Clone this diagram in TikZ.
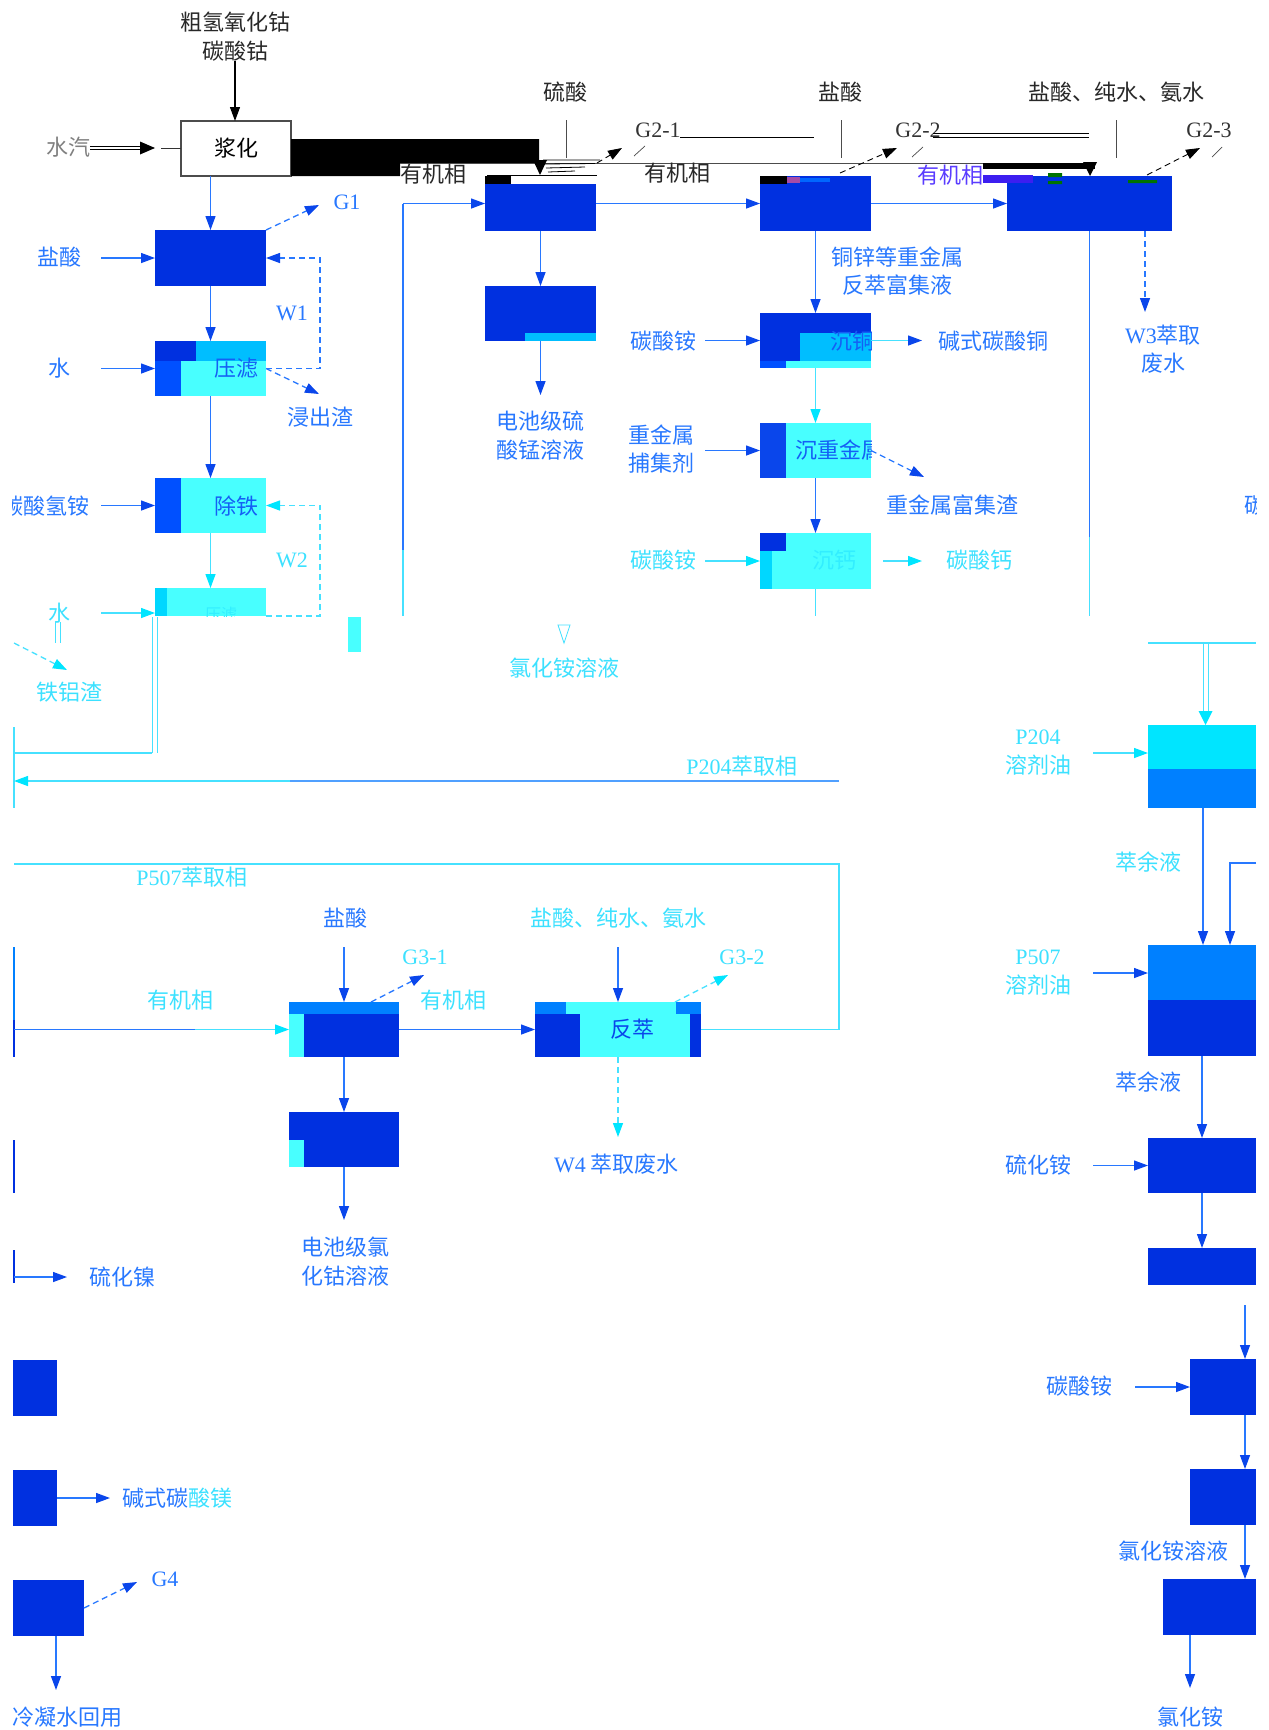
\documentclass[tikz,border=0pt]{standalone}
\usepackage{fontspec}
\setmainfont{Liberation Serif}
\newfontfamily\cjk{Noto Sans CJK SC}
\newfontfamily\lat{Liberation Serif}
\usetikzlibrary{arrows.meta}
\definecolor{dblue}{RGB}{0,48,224}
\definecolor{mblue}{RGB}{0,80,255}
\definecolor{sblue}{RGB}{0,128,255}
\definecolor{cyanA}{RGB}{0,190,255}
\definecolor{cyanB}{RGB}{72,255,255}
\definecolor{cyanC}{RGB}{0,229,255}
\definecolor{cyanD}{RGB}{0,215,255}
\definecolor{lblue}{RGB}{40,120,255}
\definecolor{hblue}{RGB}{10,70,235}
\definecolor{lcyan}{RGB}{70,225,255}
\definecolor{tblue}{RGB}{40,120,255}
\definecolor{tcyan}{RGB}{60,225,255}
\definecolor{tgray}{RGB}{40,40,40}
\definecolor{inblue}{RGB}{20,95,245}
\definecolor{faint}{RGB}{50,238,255}
\definecolor{glv}{RGB}{60,30,240}
\definecolor{glv2}{RGB}{90,60,255}
\definecolor{midl}{RGB}{80,160,255}
\newcommand\mkbox[6]{\node[box,fill=#6,minimum width={#4-#2},minimum height={#5-#3}] (#1) at ({(#2+#4)/2},{(#3+#5)/2}) {};}
\tikzset{
 box/.style={inner sep=0pt, outer sep=0pt, draw=none},
 lab/.style={font=\cjk\fontsize{22}{28.5}\selectfont, inner sep=0pt, align=center, text=tblue},
 lc/.style={lab, text=tcyan},
 lk/.style={lab, text=tgray},
 lt/.style={font=\lat\fontsize{22}{26}\selectfont, inner sep=0pt},
 ln/.style={line width=1.3pt},
 arrB/.style={ln, draw=lblue, -{Triangle[length=14pt,width=10pt,color=hblue]}},
 arrC/.style={ln, draw=lcyan, -{Triangle[length=14pt,width=10pt,color=cyanC]}},
 arrCB/.style={ln, draw=lcyan, -{Triangle[length=14pt,width=10pt,color=hblue]}},
 arrK/.style={line width=1.2pt, draw=black, -{Triangle[length=14pt,width=10pt,color=black]}},
 dsB/.style={arrB, dash pattern=on 6pt off 4pt},
 dsC/.style={arrC, dash pattern=on 6pt off 4pt},
 dsK/.style={arrK, line width=0.9pt, dash pattern=on 6pt off 4pt},
}
\begin{document}
\begin{tikzpicture}[x=1pt,y=-1pt]
\useasboundingbox (0,0) rectangle (1269,1730);
\fill[white] (0,0) rectangle (1269,1730);

% ---------- top: raw material and slurrying ----------
\node[lk] (raw) at (235,36.5) {粗氢氧化钴\\碳酸钴};
\node[draw=black!70, line width=1.2pt, fill=white, inner sep=0pt, outer sep=0pt,
      minimum width=110pt, minimum height=55pt, font=\cjk\fontsize{22}{26}\selectfont, text=black] (J) at (236,148.5) {浆化};
\draw[arrK] (raw.south) -- (raw.south |- J.north);
\node[lk, text=gray] (st) at (68,147) {水汽};
\draw[line width=0.9pt] (st.east |- 0,146.5) -- (142,146.5) (st.east |- 0,149.5) -- (142,149.5);
\fill (140,141.5) -- (155,148) -- (140,154.5) -- cycle;
\coordinate (sta) at (161,148.5);
\draw[line width=1.2pt, black!80] (sta) -- (J.west);

% black glitch bar and top lines
\fill[black] (291,139) -- (539,139) -- (539,163) -- (400,163) -- (400,176) -- (291,176) -- cycle;
\draw[gray!60!black, line width=1pt] (400,163) -- (983,163);
\fill[black] (983,163) rectangle (1095,169);
\fill[black] (533,160) -- (547,160) -- (540,175) -- cycle;
\fill[black] (1083,162) -- (1097,162) -- (1090,176) -- cycle;
\draw[black, line width=0.8pt] (543,160) -- (600,160) (544,164) -- (595,163.5) (546,168) -- (585,167) (548,172) -- (575,171);

\node[lk] (ls) at (565,92) {硫酸};
\node[lk] (lh) at (840,92) {盐酸};
\node[lk] (lhc) at (1116,92) {盐酸、纯水、氨水};
\coordinate (ls1) at (566,120); \coordinate (ls2) at (566,158);
\coordinate (lh1) at (841,120); \coordinate (lh2) at (841,158);
\coordinate (lc1) at (1116,120); \coordinate (lc2) at (1116,158);
\draw[gray!60!black, line width=1pt] (ls1) -- (ls2) (lh1) -- (lh2) (lc1) -- (lc2);

\node[lt, text=black!80] (g21) at (658,130) {G2-1};
\node[lt, text=black!80] (g22) at (918,130) {G2-2};
\node[lt, text=black!80] (g23) at (1209,130) {G2-3};
\draw[black, line width=1pt] (680,137) -- (814,137);
\draw[black, line width=0.8pt] (933,133.5) -- (1089,133.5) (933,137) -- (1089,137);
\coordinate (g21s) at (597,163); \coordinate (g21e) at (622,148);
\coordinate (g22s) at (840,173); \coordinate (g22e) at (897,148);
\coordinate (g23s) at (1147,175); \coordinate (g23e) at (1200,148);
\draw[dsK] (g21s) -- (g21e);
\draw[dsK] (g22s) -- (g22e);
\draw[dsK] (g23s) -- (g23e);
\draw[black!70, line width=0.7pt] (634,156) -- (645,146) (912,157) -- (923,147) (1212,157) -- (1222,147);

% ---------- first-row boxes ----------
\mkbox{b5}{485}{176}{596}{231}{dblue}
\fill[white] (511,176) rectangle (596,184);
\fill[black] (485,176) rectangle (511,184);
\draw[black, line width=0.8pt] (487,175.5) -- (597,175.5);
\mkbox{b6}{760}{176}{871}{231}{dblue}
\fill[black] (760,176) rectangle (787,184);
\fill[violet!70] (787,177) rectangle (800,183);
\fill[blue!60!cyan] (800,178) rectangle (830,182);
\mkbox{b7}{1007}{176}{1172}{231}{dblue}
\fill[glv] (983,175) rectangle (1033,183);
\fill[green!45!black] (1048,173) rectangle (1062,177) (1048,181) rectangle (1062,184) (1128,180) rectangle (1157,183);
\node[lk] (yj1) at (433,174) {有机相};
\node[lk] (yj2) at (677,173) {有机相};
\node[lab, text=glv2] (yj3) at (950,175) {有机相};

\coordinate (v403t) at (403,203.5); \coordinate (v403m) at (403,550); \coordinate (v403b) at (403,616);
\draw[ln, lblue] (v403t) -- (v403m);
\draw[ln, lcyan] (v403m) -- (v403b);
\draw[arrB] (v403t) -- (b5.west);
\draw[arrB] (b5.east) -- (b6.west);
\draw[arrB] (b6.east) -- (b7.west);

% ---------- left column ----------
\mkbox{b1}{155}{230}{266}{286}{dblue}
\draw[arrB] (b1.north |- J.south) -- (b1.north);
\node[lab] (hcl1) at (59,257) {盐酸};
\coordinate (hcl1a) at (101,258);
\draw[arrB] (hcl1a) -- (b1.west);
\node[lt, text=tblue] (g1) at (347,202) {G1};
\coordinate (g1a) at (319,205);
\draw[dsB] (b1.north east) -- (g1a);

\mkbox{b2}{155}{341}{266}{396}{dblue}
\fill[cyanA] (196,341) rectangle (266,361);
\fill[mblue] (155,361) rectangle (181,396);
\fill[cyanB] (181,361) rectangle (266,396);
\node[lab, text=inblue] (t2) at (236,368) {压滤};
\draw[arrB] (b1.south) -- (b2.north);
\node[lab] (w0) at (59,368) {水};
\coordinate (w0a) at (101,368.5);
\draw[arrB] (w0a) -- (b2.west);
\node[lt, text=tblue] (w1) at (292,313) {W1};
\coordinate (w1a) at (320,368.5); \coordinate (w1b) at (320,258);
\draw[dsB] (b2.east) -- (w1a) -- (w1b) -- (b1.east);
\node[lab] (jzz) at (320,417) {浸出渣};
\coordinate (jzza) at (319,394);
\draw[dsB] (b2.east) -- (jzza);

\mkbox{b3}{155}{478}{266}{533}{cyanB}
\fill[mblue] (155,478) rectangle (181,533);
\node[lab, text=inblue] (t3) at (236,506) {除铁};
\draw[arrB] (b2.south) -- (b3.north);
\node[lab, anchor=east] (nh) at (90,506) {碳酸氢铵};
\coordinate (nha) at (101,505.5);
\draw[arrB] (nha) -- (b3.west);

\mkbox{b4}{155}{588}{266}{616}{cyanB}
\fill[cyanD] (155,588) rectangle (167,616);
\begin{scope}
\clip (b4.south west) rectangle (b4.north east);
\node[font=\cjk\fontsize{16}{18}\selectfont, text=faint, inner sep=0pt] (t4) at (221,614) {压滤};
\end{scope}
\draw[arrC] (b3.south) -- (b4.north);
\node[lt, text=tcyan] (w2) at (292,560) {W2};
\coordinate (w2a) at (320,616); \coordinate (w2b) at (320,505.5);
\draw[dsC] (b4.south east) -- (w2a) -- (w2b) -- (b3.east);
\node[lc] (w3l) at (59,613) {水};
\coordinate (w3a) at (101,613);
\draw[arrC] (w3a) -- (w3a -| b4.west);
\draw[lcyan, line width=1pt] (55,622) -- (55,643) (60,622) -- (60,643);
\node[lc] (tlz) at (69,692) {铁铝渣};
\coordinate (tlza) at (14,643); \coordinate (tlzb) at (67,670);
\draw[dsC] (tlza) -- (tlzb);
\coordinate (d1) at (152,617); \coordinate (d2) at (152,753);
\draw[lcyan, line width=1pt] (d1) -- (d2) (157,617) -- (157,753);
\coordinate (d3) at (14,753);
\draw[lcyan, line width=1.2pt] (d2) -- (d3);
\draw[lcyan, line width=2pt] (14,727) -- (14,808);
\node[lc] (p204x) at (742,766) {{\lat P204}萃取相};
\coordinate (pxa) at (839,781); \coordinate (pxm) at (290,781); \coordinate (pxb) at (14,781);
\draw[ln, midl] (pxa) -- (pxm);
\draw[arrC] (pxm) -- (pxb);

% ---------- middle column ----------
\mkbox{b8}{485}{286}{596}{341}{dblue}
\fill[cyanA] (525,333) rectangle (596,341);
\draw[arrB] (b5.south) -- (b8.north);
\coordinate (mn) at (540.5,395);
\draw[arrB] (b8.south) -- (mn);
\node[lab] (mnl) at (540,435.5) {电池级硫\\酸锰溶液};
\mkbox{cr}{348}{617}{361}{652}{cyanB}
\draw[lcyan, line width=0.8pt] (558,625) -- (570,625) -- (564,643) -- cycle;
\node[lc] (nhcl1) at (564,668) {氯化铵溶液};

% ---------- b6 column ----------
\mkbox{b9}{760}{313}{871}{368}{dblue}
\fill[cyanA] (800,333) rectangle (871,361);
\fill[mblue] (760,361) rectangle (786,368);
\fill[cyanB] (786,361) rectangle (871,368);
\begin{scope}
\clip (b9.south west) rectangle (b9.north east);
\node[lab, anchor=west, text=inblue] (t9) at (830,341) {沉铜};
\end{scope}
\draw[arrB] (b6.south) -- (b9.north);
\node[lab] (cu) at (897,271) {铜锌等重金属\\反萃富集液};
\node[lab] (ac1) at (663,341) {碳酸铵};
\coordinate (ac1a) at (705,340.5);
\draw[arrB] (ac1a) -- (b9.west);
\node[lab] (bcu) at (993,341) {碱式碳酸铜};
\coordinate (bcua) at (922,340.5);
\draw[arrCB] (b9.east) -- (bcua);

\mkbox{b10}{760}{423}{871}{478}{cyanB}
\fill[hblue] (760,423) rectangle (786,478);
\begin{scope}
\clip (b10.south west) rectangle (b10.north east);
\node[lab, anchor=west, text=inblue] (t10) at (795,450) {沉重金属};
\end{scope}
\draw[arrC] (b9.south) -- (b10.north);
\node[lab] (hm) at (661,449) {重金属\\捕集剂};
\coordinate (hma) at (705,450.5);
\draw[arrB] (hma) -- (b10.west);
\coordinate (hmz) at (924,477);
\draw[dsB] (b10.east) -- (hmz);
\node[lab] (hmzl) at (952,505) {重金属富集渣};

\mkbox{b11}{760}{533}{871}{589}{cyanB}
\fill[dblue] (760,533) rectangle (786,551);
\fill[cyanD] (760,551) rectangle (772,589);
\node[lab, text=faint] (t11) at (834,560) {沉钙};
\draw[arrB] (b10.south) -- (b11.north);
\node[lc] (ac2) at (663,560) {碳酸铵};
\coordinate (ac2a) at (705,561);
\draw[arrC] (ac2a) -- (b11.west);
\node[lc] (cac) at (979,560) {碳酸钙};
\coordinate (caca) at (883,561); \coordinate (cacb) at (922,561);
\draw[arrC] (caca) -- (cacb);
\coordinate (b11d) at (815.5,616);
\draw[ln, lcyan] (b11.south) -- (b11d);

% ---------- b7 column ----------
\coordinate (b7d1) at (1089.5,537); \coordinate (b7d2) at (1089.5,616);
\draw[ln, lblue] (b7.south) -- (b7d1);
\draw[ln, lcyan] (b7d1) -- (b7d2);
\coordinate (w3e) at (1145,312);
\draw[dsB] (w3e |- b7.south) -- (w3e);
\node[lab] (w3t) at (1163,349) {{\lat W3}萃取\\废水};
\node[lab, anchor=west] (rc) at (1244,505) {碳酸};

% ---------- right column ----------
\coordinate (rt1) at (1148,643); \coordinate (rt2) at (1256,643);
\draw[lcyan, line width=1.5pt] (rt1) -- (rt2);
\draw[lcyan, line width=1pt] (1203,643) -- (1203,712) (1208,643) -- (1208,712);
\fill[cyanC] (1198.5,711) -- (1212.5,711) -- (1205.5,725) -- cycle;
\mkbox{b12}{1148}{725}{1256}{808}{sblue}
\fill[cyanC] (1148,725) rectangle (1256,769);
\node[lc] (p204) at (1038,752.5) {{\lat P204}\\溶剂油};
\coordinate (p204a) at (1093,753);
\draw[arrC] (p204a) -- (p204a -| b12.west);
\node[lc] (ry1) at (1148,862) {萃余液};
\mkbox{b13}{1148}{945}{1256}{1056}{dblue}
\fill[sblue] (1148,945) rectangle (1256,1000);
\coordinate (c1203) at (1203,945);
\draw[arrB] (c1203 |- b12.south) -- (c1203);
\coordinate (r1) at (1256,863); \coordinate (r2) at (1230,863); \coordinate (r3) at (1230,945);
\draw[arrB] (r1) -- (r2) -- (r3);
\node[lc] (p507) at (1038,972.5) {{\lat P507}\\溶剂油};
\coordinate (p507a) at (1093,973);
\draw[arrB] (p507a) -- (p507a -| b13.west);
\node[lab] (ry2) at (1148,1082) {萃余液};
\mkbox{b14}{1148}{1138}{1256}{1193}{dblue}
\draw[arrB] (b13.south) -- (b14.north);
\node[lab] (ash) at (1038,1165) {硫化铵};
\coordinate (asha) at (1093,1165.5);
\draw[arrB] (asha) -- (b14.west);
\mkbox{b15}{1148}{1248}{1256}{1285}{dblue}
\draw[arrB] (b14.south) -- (b15.north);

% ---------- P507 section ----------
\node[lc] (p507x) at (192,877) {{\lat P507}萃取相};
\mkbox{b16}{289}{1002}{399}{1057}{dblue}
\fill[sblue] (289,1002) rectangle (399,1014);
\fill[cyanB] (289,1014) rectangle (304,1057);
\mkbox{b17}{535}{1002}{701}{1057}{cyanB}
\fill[sblue] (535,1002) rectangle (566,1014);
\fill[dblue] (535,1014) rectangle (580,1057);
\fill[sblue] (676,1002) rectangle (701,1014);
\fill[dblue] (690,1014) rectangle (701,1057);
\node[lab, text=hblue] (t17) at (632,1029) {反萃};
\coordinate (p5a) at (839,1029.5); \coordinate (p5b) at (839,864); \coordinate (p5c) at (14,864);
\draw[lcyan, line width=1.5pt] (b17.east) -- (p5a) -- (p5b) -- (p5c);
\draw[sblue, line width=2pt] (14,947) -- (14,1020);
\draw[dblue, line width=2pt] (14,1020) -- (14,1057) (14,1140) -- (14,1193) (14,1250) -- (14,1283);
\node[lc] (yj4) at (180,1000) {有机相};
\node[lc] (yj5) at (453,1000) {有机相};
\coordinate (o1) at (14,1029.5); \coordinate (o2) at (195,1029.5);
\draw[ln, lblue] (o1) -- (o2);
\draw[arrC] (o2) -- (b16.west);
\draw[arrB] (b16.east) -- (b17.west);
\node[lab] (hcl2) at (345,918) {盐酸};
\coordinate (hcl2a) at (344,947);
\draw[arrB] (hcl2a) -- (b16.north);
\node[lc] (hcw2) at (618,918) {盐酸、纯水、氨水};
\coordinate (hcw2a) at (618,947);
\draw[arrB] (hcw2a) -- (b17.north);
\node[lt, text=tcyan] (g31) at (425,957) {G3-1};
\coordinate (g31s) at (371,1002); \coordinate (g31e) at (424,975);
\draw[dsB] (g31s) -- (g31e);
\node[lt, text=tcyan] (g32) at (742,957) {G3-2};
\coordinate (g32s) at (675,1002); \coordinate (g32e) at (728,975);
\draw[dsC] (g32s) -- (g32e);
\coordinate (w4e) at (618,1137);
\draw[dsC] (b17.south) -- (w4e);
\node[lab, anchor=west] (w4l) at (554,1164) {{\lat W4} 萃取废水};
\mkbox{b18}{289}{1112}{399}{1167}{dblue}
\fill[cyanB] (289,1140) rectangle (304,1167);
\draw[arrB] (b16.south) -- (b18.north);
\coordinate (cc) at (344,1220);
\draw[arrB] (b18.south) -- (cc);
\node[lab] (ccl) at (345,1261.5) {电池级氯\\化钴溶液};
\coordinate (ni1) at (14,1277); \coordinate (ni2) at (67,1277);
\draw[arrB] (ni1) -- (ni2);
\node[lab] (nil) at (122,1277) {硫化镍};

% ---------- bottom left ----------
\mkbox{b19}{13}{1360}{57}{1416}{dblue}
\mkbox{b20}{13}{1470}{57}{1526}{dblue}
\mkbox{b21}{13}{1580}{84}{1636}{dblue}
\coordinate (mg) at (110,1498);
\draw[arrB] (b20.east) -- (mg);
\node[lab, anchor=west] (mgl) at (122,1498) {碱式碳{\color{tcyan}酸镁}};
\coordinate (g4e) at (137,1582);
\draw[dsB] (b21.east) -- (g4e);
\node[lt, text=tblue] (g4) at (165,1579) {G4};
\coordinate (cw) at (56,1690);
\draw[arrB] (cw |- b21.south) -- (cw);
\node[lab, anchor=west] (cwl) at (12,1717) {冷凝水回用};

% ---------- bottom right ----------
\mkbox{b22}{1190}{1359}{1256}{1415}{dblue}
\mkbox{b23}{1190}{1469}{1256}{1525}{dblue}
\mkbox{b24}{1163}{1579}{1256}{1635}{dblue}
\coordinate (cr0) at (1245,1305);
\draw[arrB] (cr0) -- (cr0 |- b22.north);
\draw[arrB] (cr0 |- b22.south) -- (cr0 |- b23.north);
\draw[arrB] (cr0 |- b23.south) -- (cr0 |- b24.north);
\node[lab] (ac3) at (1079,1386) {碳酸铵};
\coordinate (ac3a) at (1135,1387);
\draw[arrB] (ac3a) -- (b22.west);
\node[lab] (nhs) at (1173,1551) {氯化铵溶液};
\coordinate (nhc) at (1190,1688);
\draw[arrB] (nhc |- b24.south) -- (nhc);
\node[lab] (nhcl) at (1190,1717) {氯化铵};

% ---------- edge masks ----------
\fill[white] (1256.5,0) rectangle (1269,1730);
\fill[white] (0,0) rectangle (11.5,1730);
\end{tikzpicture}
\end{document}
